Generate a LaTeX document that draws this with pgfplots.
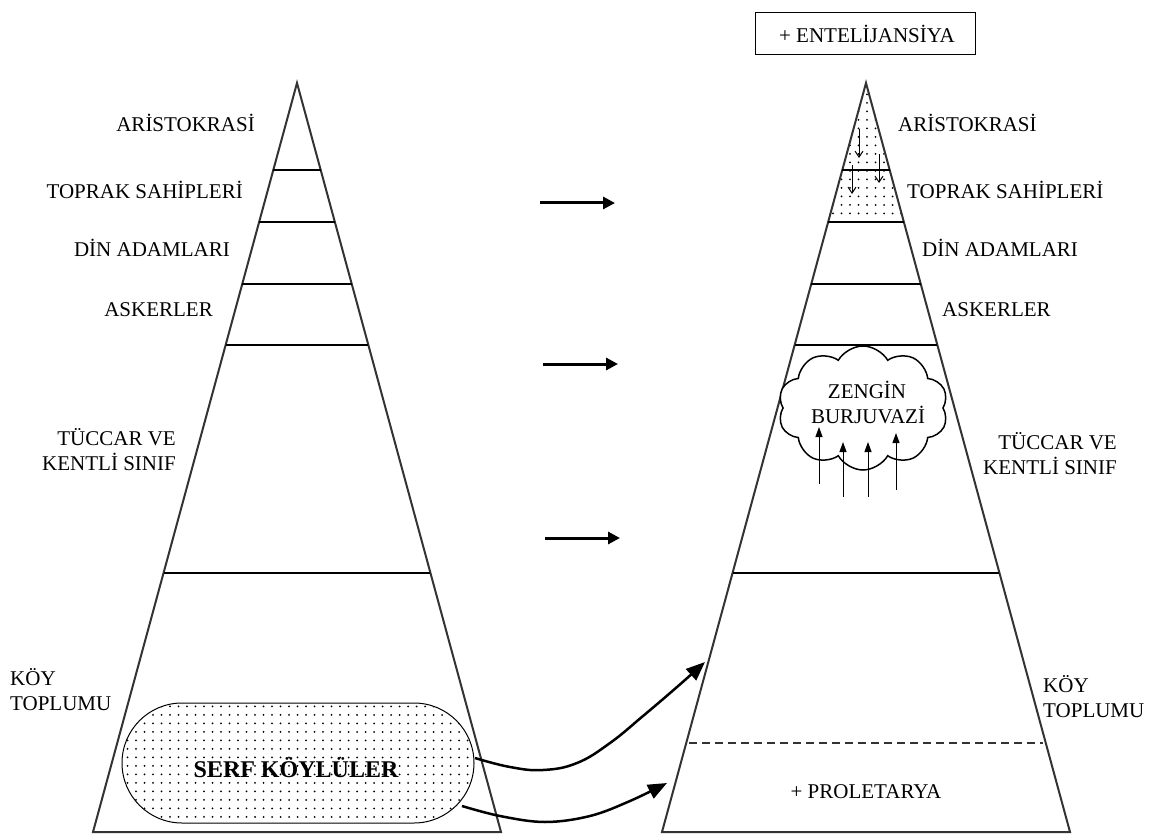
\documentclass[border=0pt]{standalone}
\usepackage{fontspec}
\setmainfont{Liberation Serif}
\usepackage{pgfplots}
\pgfplotsset{compat=1.18}
\usetikzlibrary{arrows.meta,patterns.meta,shapes.symbols}
\begin{document}
\begin{tikzpicture}[font=\fontsize{21}{25}\selectfont]
\begin{axis}[width=1164pt,height=834pt,scale only axis,
  xmin=0,xmax=1164,ymin=0,ymax=834,y dir=reverse,hide axis,clip=false,
  every axis plot/.append style={no marks}]
\path (axis cs:0,0) rectangle (axis cs:1164,834);
% dotted regions
\addplot[draw=black,line width=1pt,pattern={Dots[distance=8.5pt,radius=1pt]},rounded corners=60pt]
  coordinates {(298,703)(474,703)(474,823)(122,823)(122,703)} -- cycle;
\addplot[draw=none,pattern={Dots[distance=8.5pt,radius=1pt]}]
  coordinates {(866,83)(827,226)(905,226)} -- cycle;
% triangles
\addplot[black!80,line width=2pt] coordinates {(93,832)(297,83)(501,832)} -- cycle;
\addplot[black!80,line width=2pt] coordinates {(662,832)(866,83)(1070,832)} -- cycle;
% layer lines left
\addplot[black,line width=1.2pt] coordinates {(273.3,170)(320.7,170)};
\addplot[black,line width=1.2pt] coordinates {(259.2,222)(334.8,222)};
\addplot[black,line width=1.2pt] coordinates {(242.3,284)(351.7,284)};
\addplot[black,line width=1.2pt] coordinates {(225.7,345)(368.3,345)};
\addplot[black,line width=1.2pt] coordinates {(163.7,573)(430.3,573)};
% layer lines right
\addplot[black,line width=1.2pt] coordinates {(842.3,170)(889.7,170)};
\addplot[black,line width=1.2pt] coordinates {(828.2,222)(903.8,222)};
\addplot[black,line width=1.2pt] coordinates {(811.3,284)(920.7,284)};
\addplot[black,line width=1.2pt] coordinates {(794.7,345)(937.3,345)};
\addplot[black,line width=1.2pt] coordinates {(732.7,573)(999.3,573)};
\addplot[black!80,line width=1.2pt,dash pattern=on 8pt off 5pt] coordinates {(689,743)(1043,743)};
% small arrows in aristokrasi
\addplot[black,line width=1pt,-{Straight Barb[length=6pt,width=8pt]}] coordinates {(859,129)(859,158)};
\addplot[black,line width=1pt,-{Straight Barb[length=6pt,width=8pt]}] coordinates {(852,165)(852,194)};
\addplot[black,line width=1pt,-{Straight Barb[length=6pt,width=8pt]}] coordinates {(879,154)(879,183)};
% horizontal arrows
\addplot[black,line width=3pt,-{Triangle[length=12pt,width=12pt]}] coordinates {(540,203)(615,203)};
\addplot[black,line width=3pt,-{Triangle[length=12pt,width=12pt]}] coordinates {(543,364)(618,364)};
\addplot[black,line width=3pt,-{Triangle[length=12pt,width=12pt]}] coordinates {(545,538)(620,538)};
% curved arrows
\addplot[black,smooth,tension=0.7,line width=2.5pt,-{Triangle[length=19pt,width=15pt]}]
  coordinates {(475,758)(510,767)(543,770)(577,763)(610,743)(643,716)(677,687)(705,662)};
\addplot[black,smooth,tension=0.6,line width=2.5pt,-{Triangle[length=19pt,width=15pt]}]
  coordinates {(462,806)(500,816)(545,822)(590,816)(630,801)(667,783)};
% cloud
\node[cloud,cloud puffs=10,cloud puff arc=120,cloud ignores aspect,minimum width=170pt,
  minimum height=124pt,draw=black,line width=1.5pt,fill=white,inner sep=0pt] at (axis cs:863,408) {};
\node at (axis cs:867,390) {ZENGİN};
\node at (axis cs:868,415) {BURJUVAZİ};
% up arrows
\addplot[black,line width=1pt,-{Triangle[length=10pt,width=7pt]}] coordinates {(819,484)(819,427)};
\addplot[black,line width=1pt,-{Triangle[length=10pt,width=7pt]}] coordinates {(843,497)(843,442)};
\addplot[black,line width=1pt,-{Triangle[length=10pt,width=7pt]}] coordinates {(868,497)(868,442)};
\addplot[black,line width=1pt,-{Triangle[length=10pt,width=7pt]}] coordinates {(896,490)(896,433)};
% box
\addplot[black,line width=1pt] coordinates {(755,13)(975,13)(975,55)(755,55)} -- cycle;
\node at (axis cs:867,34) {+ ENTELİJANSİYA};
% left labels
\node[anchor=east,inner sep=0pt] at (axis cs:255,123) {ARİSTOKRASİ};
\node[anchor=east,inner sep=0pt] at (axis cs:243,190) {TOPRAK SAHİPLERİ};
\node[anchor=east,inner sep=0pt] at (axis cs:230,248) {DİN ADAMLARI};
\node[anchor=east,inner sep=0pt] at (axis cs:213,310) {ASKERLER};
\node[anchor=east,inner sep=0pt,align=right] at (axis cs:176,450) {TÜCCAR VE\\KENTLİ SINIF};
\node[anchor=west,inner sep=0pt,align=left] at (axis cs:10,690) {KÖY\\TOPLUMU};
% right labels
\node[anchor=west,inner sep=0pt] at (axis cs:898,123) {ARİSTOKRASİ};
\node[anchor=west,inner sep=0pt] at (axis cs:907,190) {TOPRAK SAHİPLERİ};
\node[anchor=west,inner sep=0pt] at (axis cs:922,248) {DİN ADAMLARI};
\node[anchor=west,inner sep=0pt] at (axis cs:942,310) {ASKERLER};
\node[anchor=east,inner sep=0pt,align=right] at (axis cs:1117,454) {TÜCCAR VE\\KENTLİ SINIF};
\node[anchor=west,inner sep=0pt,align=left] at (axis cs:1043,697) {KÖY\\TOPLUMU};
\node at (axis cs:866,792) {+ PROLETARYA};
% serf
\node[font=\fontsize{24}{28}\selectfont\bfseries] at (axis cs:296,768) {SERF KÖYLÜLER};
\end{axis}
\end{tikzpicture}
\end{document}
